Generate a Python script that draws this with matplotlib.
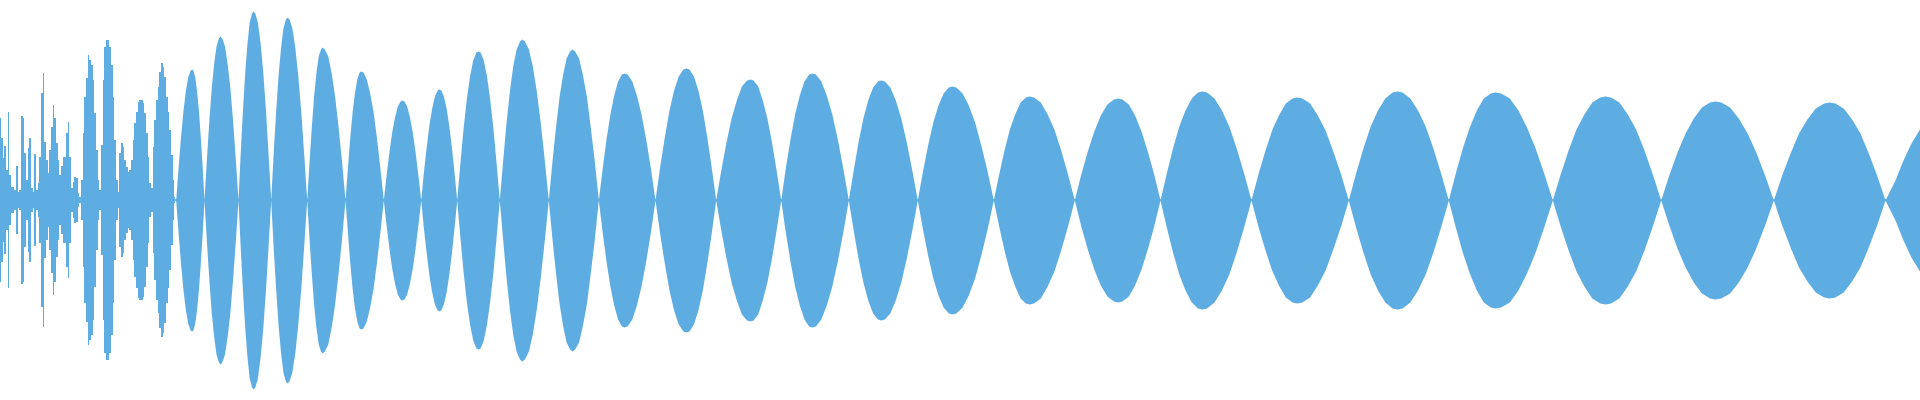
import numpy as np
import matplotlib
matplotlib.use("Agg")
import matplotlib.pyplot as plt

# Peak amplitude of the waveform, first section (one value per sample column)
intro_step = 5 / 3
intro_amp = [
    82, 62, 42, 54, 30, 88, 25, 13, 13, 10,
    34, 8, 10, 84, 82, 47, 20, 52, 62, 12,
    8, 46, 10, 17, 43, 107, 127, 58, 40, 27,
    50, 73, 95, 82, 57, 40, 25, 34, 43, 43,
    67, 78, 43, 12, 18, 23, 22, 7, 3, 20,
    67, 103, 122, 145, 140, 135, 120, 87, 50, 20,
    10, 55, 120, 153, 160, 160, 153, 135, 103, 60,
    20, 8, 47, 57, 53, 40, 33, 28, 30, 40,
    60, 77, 88, 98, 100, 100, 97, 87, 67, 43,
    17, 12, 53, 80, 100, 113, 128, 137, 133, 123,
    103, 88, 70, 45, 20, 3,
]

# Envelope of the remaining section: time position and peak amplitude
env_x = [
    175.7, 178.1, 180.5, 182.9, 185.3, 187.7, 190.1, 191.7, 192.9, 194.8, 196.6, 198.5, 200.3, 202.2,
    204.0, 206.4, 208.8, 211.2, 213.6, 216.0, 218.4, 220.0, 221.8, 224.5, 227.2, 229.9, 232.6, 235.3,
    238.0, 240.2, 242.5, 244.8, 247.0, 249.2, 251.5, 253.0, 254.8, 257.4, 260.1, 262.7, 265.4, 268.0,
    270.7, 273.1, 275.6, 278.0, 280.5, 282.9, 285.4, 287.0, 289.0, 291.9, 294.9, 297.8, 300.8, 303.7,
    306.7, 309.0, 311.3, 313.6, 315.9, 318.2, 320.5, 322.0, 324.3, 327.8, 331.2, 334.6, 338.1, 341.6,
    345.0, 347.4, 349.7, 352.1, 354.4, 356.8, 359.1, 360.7, 363.0, 366.3, 369.7, 373.1, 376.5, 379.9,
    383.3, 386.1, 388.9, 391.7, 394.5, 397.3, 400.1, 402.0, 403.9, 406.7, 409.5, 412.3, 415.1, 417.9,
    420.7, 423.4, 426.2, 428.9, 431.7, 434.4, 437.2, 439.0, 440.8, 443.4, 446.1, 448.7, 451.4, 454.0,
    456.7, 459.9, 463.1, 466.3, 469.5, 472.7, 475.9, 478.0, 480.1, 483.3, 486.5, 489.7, 492.9, 496.1,
    499.3, 502.7, 506.0, 509.4, 512.7, 516.1, 519.5, 521.7, 524.4, 528.4, 532.3, 536.3, 540.3, 544.3,
    548.3, 551.9, 555.4, 559.0, 562.5, 566.1, 569.6, 572.0, 574.6, 578.6, 582.5, 586.5, 590.4, 594.4,
    598.3, 602.2, 606.0, 609.9, 613.7, 617.6, 621.4, 624.0, 627.1, 631.8, 636.4, 641.0, 645.7, 650.4,
    655.0, 659.6, 664.3, 669.0, 673.6, 678.2, 682.9, 686.0, 689.0, 693.4, 697.9, 702.3, 706.8, 711.2,
    715.7, 720.8, 726.0, 731.1, 736.3, 741.4, 746.6, 750.0, 753.1, 757.7, 762.3, 766.9, 771.5, 776.1,
    780.7, 785.3, 790.0, 794.6, 799.3, 804.0, 808.6, 811.7, 815.4, 820.8, 826.3, 831.8, 837.3, 842.8,
    848.3, 853.2, 858.0, 862.9, 867.7, 872.6, 877.5, 880.7, 884.4, 889.8, 895.3, 900.8, 906.3, 911.8,
    917.3, 922.5, 927.6, 932.8, 938.0, 943.1, 948.3, 951.7, 955.9, 962.1, 968.3, 974.6, 980.8, 987.1,
    993.3, 998.7, 1004.0, 1009.4, 1014.7, 1020.1, 1025.4, 1029.0, 1033.5, 1040.3, 1047.1, 1053.9, 1060.7, 1067.5,
    1074.3, 1080.8, 1087.3, 1093.8, 1100.3, 1106.9, 1113.4, 1117.7, 1121.9, 1128.3, 1134.6, 1141.0, 1147.3, 1153.7,
    1160.0, 1166.3, 1172.5, 1178.8, 1185.0, 1191.3, 1197.5, 1201.7, 1206.6, 1214.0, 1221.4, 1228.8, 1236.2, 1243.6,
    1251.0, 1257.9, 1264.7, 1271.6, 1278.4, 1285.3, 1292.1, 1296.7, 1301.9, 1309.6, 1317.3, 1325.1, 1332.8, 1340.6,
    1348.3, 1355.6, 1362.9, 1370.2, 1377.5, 1384.8, 1392.1, 1397.0, 1402.1, 1409.8, 1417.5, 1425.2, 1432.9, 1440.6,
    1448.3, 1455.3, 1462.3, 1469.3, 1476.3, 1483.3, 1490.3, 1495.0, 1500.7, 1509.3, 1517.9, 1526.5, 1535.1, 1543.7,
    1552.3, 1560.2, 1568.1, 1576.0, 1583.9, 1591.8, 1599.7, 1605.0, 1610.6, 1618.9, 1627.3, 1635.6, 1644.0, 1652.3,
    1660.7, 1668.8, 1677.0, 1685.1, 1693.3, 1701.4, 1709.6, 1715.0, 1720.8, 1729.6, 1738.3, 1747.1, 1755.8, 1764.6,
    1773.3, 1781.7, 1790.1, 1798.5, 1806.9, 1815.3, 1823.7, 1829.3, 1834.9, 1843.2, 1851.6, 1859.9, 1868.3, 1876.6,
    1885.0, 1895.0, 1903.0, 1911.0, 1920.0,
]
env_amp = [
    0, 33, 63, 89, 109, 123, 130, 131, 130, 123, 109, 89, 63, 33,
    0, 41, 79, 112, 136, 154, 162, 164, 162, 154, 136, 112, 79, 41,
    0, 47, 91, 129, 157, 178, 187, 189, 187, 178, 157, 129, 91, 47,
    0, 46, 88, 124, 152, 172, 181, 183, 181, 172, 152, 124, 88, 46,
    0, 38, 73, 104, 127, 144, 151, 153, 151, 144, 127, 104, 73, 38,
    0, 32, 62, 88, 107, 121, 128, 129, 128, 121, 107, 88, 62, 32,
    0, 25, 48, 68, 83, 94, 99, 100, 99, 94, 83, 68, 48, 25,
    0, 28, 53, 75, 92, 104, 110, 111, 110, 104, 92, 75, 53, 28,
    0, 37, 72, 101, 124, 140, 148, 149, 148, 140, 124, 101, 72, 37,
    0, 40, 77, 109, 134, 151, 159, 161, 159, 151, 134, 109, 77, 40,
    0, 38, 72, 103, 125, 142, 149, 151, 149, 142, 125, 103, 72, 38,
    0, 32, 61, 86, 105, 119, 126, 127, 126, 119, 105, 86, 61, 32,
    0, 33, 63, 90, 110, 124, 131, 132, 131, 124, 110, 90, 63, 33,
    0, 30, 58, 82, 100, 114, 120, 121, 120, 114, 100, 82, 58, 30,
    0, 32, 61, 86, 105, 119, 126, 127, 126, 119, 105, 86, 61, 32,
    0, 30, 58, 82, 100, 113, 119, 120, 119, 113, 100, 82, 58, 30,
    0, 29, 55, 78, 95, 107, 113, 114, 113, 107, 95, 78, 55, 29,
    0, 26, 50, 71, 86, 98, 103, 104, 103, 98, 86, 71, 50, 26,
    0, 26, 49, 69, 85, 96, 101, 102, 101, 96, 85, 69, 49, 26,
    0, 27, 52, 74, 90, 102, 108, 109, 108, 102, 90, 74, 52, 27,
    0, 26, 49, 70, 85, 97, 102, 103, 102, 97, 85, 70, 49, 26,
    0, 27, 52, 74, 90, 102, 108, 109, 108, 102, 90, 74, 52, 27,
    0, 27, 52, 73, 90, 102, 107, 108, 107, 102, 90, 73, 52, 27,
    0, 26, 50, 71, 86, 98, 103, 104, 103, 98, 86, 71, 50, 26,
    0, 25, 48, 67, 82, 93, 98, 99, 98, 93, 82, 67, 48, 25,
    0, 25, 47, 67, 81, 92, 97, 98, 97, 92, 81, 67, 47, 25,
    0, 20, 40, 57, 72,
]

COLOR = "#5dade2"

fig = plt.figure(figsize=(19.2, 4.0), dpi=100)
ax = fig.add_axes([0, 0, 1, 1])

ix = np.arange(len(intro_amp)) * intro_step
ia = np.array(intro_amp, dtype=float)
ax.fill_between(ix, -ia, ia, step="mid", color=COLOR, linewidth=0)

ex = np.array(env_x, dtype=float)
ea = np.array(env_amp, dtype=float)
ax.fill_between(ex, -ea, ea, color=COLOR, linewidth=0)

# thin centre line joining the lobes
ax.plot([0, 1920], [0, 0], color=COLOR, linewidth=1.2)

ax.set_xlim(0, 1920)
ax.set_ylim(-200, 200)
ax.axis("off")

fig.savefig("out.png", dpi=100, facecolor="white")
